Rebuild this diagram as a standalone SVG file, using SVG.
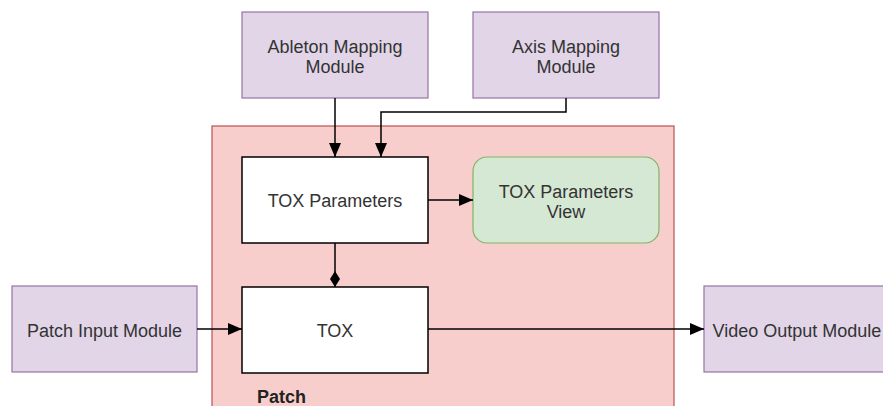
<svg xmlns="http://www.w3.org/2000/svg" width="883" height="406" viewBox="0 0 883 406">
<defs>
<marker id="arr" viewBox="0 0 14 12" refX="14" refY="6" markerWidth="14" markerHeight="12" markerUnits="userSpaceOnUse" orient="auto"><path d="M0,0 L14,6 L0,12 Z" fill="#000"/></marker>
<marker id="dia" viewBox="0 0 16 10" refX="16" refY="5" markerWidth="16" markerHeight="10" markerUnits="userSpaceOnUse" orient="auto"><path d="M0,5 L8,0 L16,5 L8,10 Z" fill="#000"/></marker>
</defs>
<style>
.p{fill:#e1d5e7;stroke:#9673a6;stroke-width:1.2}
.w{fill:#fff;stroke:#000;stroke-width:1.5}
.g{fill:#d5e8d4;stroke:#82b366;stroke-width:1.2}
.r{fill:#f8cecc;stroke:#b85450;stroke-width:1.2}
text{font-family:"Liberation Sans",Arial,sans-serif;font-size:18px;fill:#333;text-anchor:middle}
.c{fill:none;stroke:#000;stroke-width:1.5}
</style>
<rect width="883" height="406" fill="#fff"/>
<g id="patch"><rect class="r" x="212" y="126" width="462" height="290"/><text x="257" y="403" style="text-anchor:start;font-weight:bold;fill:#222">Patch</text></g>
<g id="ableton"><rect class="p" x="242" y="12" width="186" height="86"/><text x="335" y="53">Ableton Mapping</text><text x="335" y="73">Module</text></g>
<g id="axis"><rect class="p" x="473" y="12" width="186" height="86"/><text x="566" y="53">Axis Mapping</text><text x="566" y="73">Module</text></g>
<g id="toxparams"><rect class="w" x="242" y="157" width="186" height="86"/><text x="335" y="207">TOX Parameters</text></g>
<g id="toxview"><rect class="g" x="473" y="157" width="186" height="86" rx="14"/><text x="566" y="198">TOX Parameters</text><text x="566" y="218">View</text></g>
<g id="tox"><rect class="w" x="242" y="287" width="186" height="86"/><text x="335" y="337">TOX</text></g>
<g id="input"><rect class="p" x="12" y="286" width="185" height="86"/><text x="104.5" y="337">Patch Input Module</text></g>
<g id="output"><rect class="p" x="704" y="286" width="186" height="86"/><text x="797" y="337">Video Output Module</text></g>
<g id="connectors">
<path class="c" d="M335,98 L335,157" marker-end="url(#arr)"/>
<path class="c" d="M566,98 L566,112 L381,112 L381,157" marker-end="url(#arr)"/>
<path class="c" d="M428,200 L473,200" marker-end="url(#arr)"/>
<path class="c" d="M335,243 L335,287" marker-end="url(#dia)"/>
<path class="c" d="M197,329 L242,329" marker-end="url(#arr)"/>
<path class="c" d="M428,329 L704,329" marker-end="url(#arr)"/>
</g>
</svg>
